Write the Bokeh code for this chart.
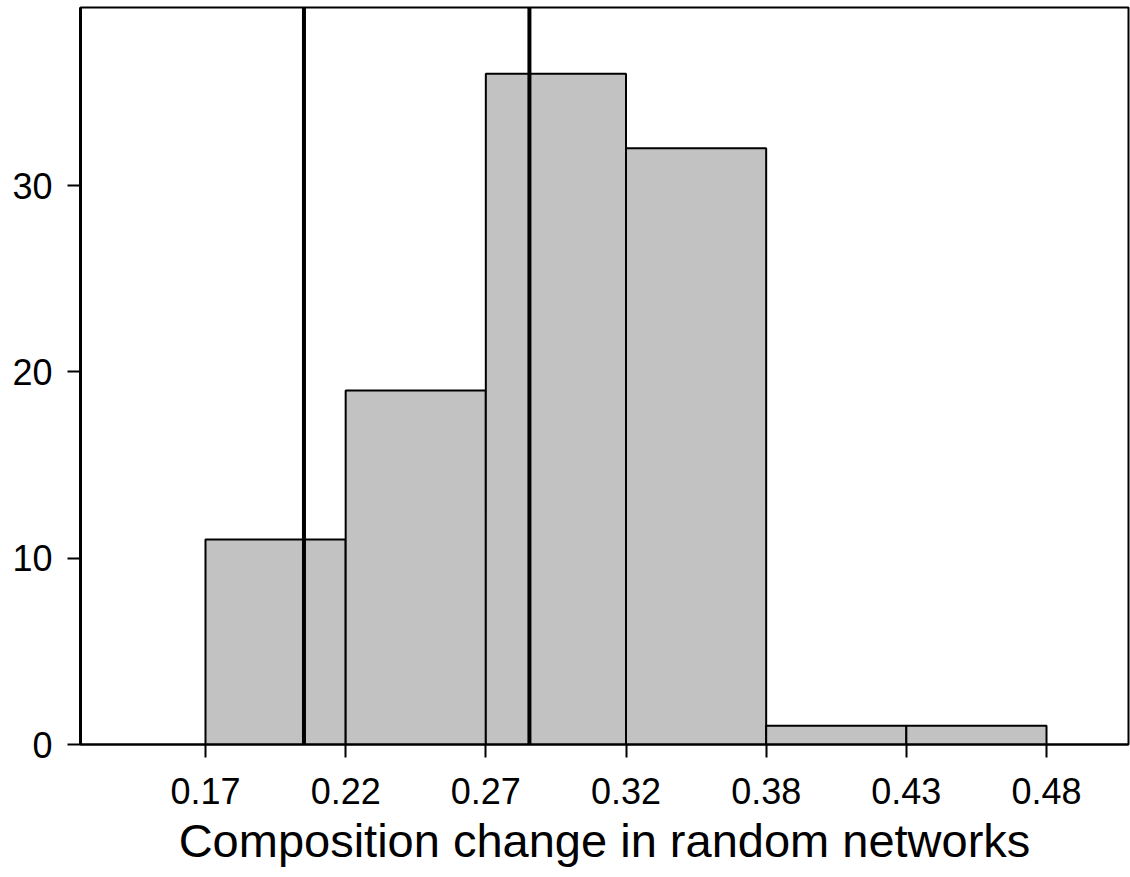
from bokeh.plotting import figure
from bokeh.models import FixedTicker, Range1d, Span
from bokeh.embed import file_html
from bokeh.resources import INLINE

# Histogram bin edges (evenly spaced) and their printed labels
bin_edges = [0.17, 0.22167, 0.27333, 0.325, 0.37667, 0.42833, 0.48]
edge_labels = ["0.17", "0.22", "0.27", "0.32", "0.38", "0.43", "0.48"]
# Counts per bin
counts = [11, 19, 36, 32, 1, 1]
# Observed values marked with vertical lines
observed = [0.2063, 0.2894]
y_ticks = [0, 10, 20, 30]
x_label = "Composition change in random networks"

FONT = "Liberation Sans"

p = figure(
    width=1130, height=877,
    output_backend="svg", toolbar_location=None,
    x_range=Range1d(0.12393, 0.51022), y_range=Range1d(0, 39.56),
    min_border_left=80, min_border_right=2, min_border_top=7, min_border_bottom=133,
)
p.background_fill_color = "white"
p.border_fill_color = "white"
p.outline_line_color = "black"
p.outline_line_width = 2
p.xgrid.visible = False
p.ygrid.visible = False

p.quad(left=bin_edges[:-1], right=bin_edges[1:], bottom=0, top=counts,
       fill_color="#c2c2c2", line_color="black", line_width=2)

for v in observed:
    p.add_layout(Span(location=v, dimension="height", line_color="black", line_width=4))

xa = p.xaxis[0]
xa.ticker = FixedTicker(ticks=bin_edges)
xa.major_label_overrides = {t: l for t, l in zip(bin_edges, edge_labels)}
xa.minor_tick_line_color = None
xa.major_tick_in = 0
xa.major_tick_out = 13
xa.major_tick_line_width = 2
xa.major_tick_line_color = "black"
xa.axis_line_color = "black"
xa.axis_line_width = 2
xa.major_label_standoff = 20
xa.major_label_text_font = FONT
xa.major_label_text_font_size = "36px"
xa.major_label_text_color = "black"
xa.axis_label = x_label
xa.axis_label_text_font = FONT
xa.axis_label_text_font_size = "47px"
xa.axis_label_text_font_style = "normal"
xa.axis_label_text_color = "black"
xa.axis_label_standoff = 7

ya = p.yaxis[0]
ya.ticker = FixedTicker(ticks=y_ticks)
ya.minor_tick_line_color = None
ya.major_tick_in = 0
ya.major_tick_out = 13
ya.major_tick_line_width = 2
ya.major_tick_line_color = "black"
ya.axis_line_color = "black"
ya.axis_line_width = 3
ya.major_label_standoff = 15
ya.major_label_text_font = FONT
ya.major_label_text_font_size = "36px"
ya.major_label_text_color = "black"

open("out.html", "w").write(file_html(p, INLINE))
